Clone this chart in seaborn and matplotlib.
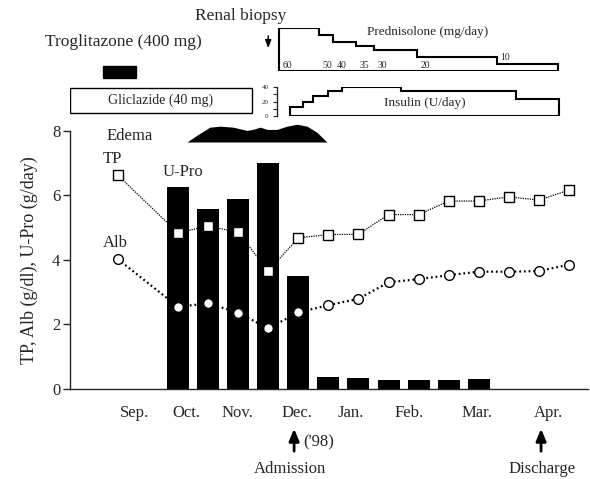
import matplotlib
import matplotlib.pyplot as plt
import pandas as pd
import seaborn as sns
from matplotlib.patches import Rectangle

matplotlib.use("Agg")

# visit index: 0 = Sep. ... 15 = Apr.
tp_x = [0, 2, 3, 4, 5, 6, 7, 8, 9, 10, 11, 12, 13, 14, 15]
tp = [6.62, 4.83, 5.05, 4.85, 3.65, 4.68, 4.78, 4.79, 5.40, 5.40, 5.82, 5.82, 5.95, 5.85, 6.16]
alb = [4.02, 2.54, 2.65, 2.36, 1.87, 2.37, 2.59, 2.79, 3.30, 3.40, 3.52, 3.63, 3.63, 3.65, 3.85]
upro_x = [2, 3, 4, 5, 6, 7, 8, 9, 10, 11, 12]
upro = [6.26, 5.56, 5.87, 7.0, 3.49, 0.38, 0.35, 0.28, 0.28, 0.28, 0.30]

months = ["Sep.", "Oct.", "Nov.", "Dec.", "Jan.", "Feb.", "Mar.", "Apr."]
month_pos = [0.57, 2.27, 3.99, 5.95, 7.75, 9.68, 11.94, 14.3]

# edema outline (top edge), base level
edema_x = [2.30, 2.63, 3.06, 3.40, 3.83, 4.29, 4.49, 4.73, 4.96, 5.29, 5.62, 5.96, 6.29, 6.62, 6.95]
edema_top = [7.65, 7.86, 8.11, 8.14, 8.11, 8.01, 8.04, 8.11, 8.04, 8.04, 8.14, 8.20, 8.14, 7.95, 7.65]
edema_base = 7.65

# prednisolone (mg/day) and insulin (U/day) steps
pred_edges = [5.36, 6.69, 7.15, 7.92, 8.52, 9.95, 12.6, 14.63]
pred_dose = [60, 50, 40, 35, 30, 20, 10]
ins_edges = [5.72, 6.17, 6.48, 7.0, 7.44, 9.43, 13.24, 14.67]
ins_dose = [12, 20, 28, 34, 40, 34, 24]

trog_period = (-0.49, 0.6)
glic_period = (-1.59, 4.46)
biopsy_x = 5.0
admission_x = 5.86
discharge_x = 14.07

xlim = (-1.59, 15.63)

sns.set_theme(style="ticks")
plt.rcParams["font.family"] = ["Liberation Serif", "DejaVu Serif"]
plt.rcParams["axes.linewidth"] = 1.0

W, H = 590, 479
fig = plt.figure(figsize=(5.9, 4.79), dpi=100)
left, width = 70 / W, 518 / W
ax = fig.add_axes([left, 1 - 388.8 / H, width, 258.1 / H])

sns.barplot(x=upro_x, y=upro, native_scale=True, width=0.73, color="black",
            saturation=1, errorbar=None, linewidth=0, ax=ax)

df = pd.DataFrame({"x": tp_x, "TP": tp, "Alb": alb})
sns.lineplot(data=df, x="x", y="TP", color="black", linewidth=0.9,
             linestyle=(0, (1, 0.9)), marker="s", markersize=7,
             markerfacecolor="white", markeredgecolor="black",
             markeredgewidth=1.0, ax=ax)
sns.lineplot(data=df, x="x", y="Alb", color="black", linewidth=1.6,
             linestyle=(0, (0.8, 1.3)), marker="o", markersize=7,
             markerfacecolor="white", markeredgecolor="black",
             markeredgewidth=1.0, ax=ax)

ax.fill_between(edema_x, edema_base, edema_top, color="black", lw=0, clip_on=False)

ax.set_xlim(*xlim)
ax.set_ylim(0, 8)
ax.set_yticks([0, 2, 4, 6, 8])
ax.set_xticks(month_pos)
ax.set_xticklabels(months)
ax.tick_params(axis="x", length=0, pad=12, labelsize=12)
ax.tick_params(axis="y", length=5, width=1, pad=2, labelsize=12)
ax.set_xlabel("")
ax.set_ylabel("TP, Alb (g/dl), U-Pro (g/day)", fontsize=13, labelpad=10)
sns.despine(ax=ax)

ax.text(0.4, 7.83, "Edema", ha="center", va="center", fontsize=12)
ax.text(-0.19, 7.11, "TP", ha="center", va="center", fontsize=12)
ax.text(2.17, 6.71, "U-Pro", ha="center", va="center", fontsize=12)
ax.text(-0.09, 4.51, "Alb", ha="center", va="center", fontsize=12)

# prednisolone panel
ax_p = fig.add_axes([left, 1 - 71 / H, width, 43 / H], facecolor="none")
ax_p.stairs(pred_dose, pred_edges, baseline=0, color="black", linewidth=1.5)
ax_p.hlines(0, pred_edges[0], pred_edges[-1], color="black", linewidth=1.5)
for x0, d in zip(pred_edges[:-1], pred_dose):
    ax_p.text(x0 + 0.12, 2 if d > 15 else d + 2, str(d), fontsize=7,
              ha="left", va="bottom")
ax_p.text(10.3, 54, "Prednisolone (mg/day)", ha="center", va="center", fontsize=9.5)
ax_p.set_xlim(*xlim)
ax_p.set_ylim(0, 60)
ax_p.axis("off")

# insulin panel
ax_i = fig.add_axes([left, 1 - 116 / H, width, 29 / H], facecolor="none")
ax_i.stairs(ins_dose, ins_edges, baseline=0, color="black", linewidth=1.5)
ax_i.hlines(0, ins_edges[0], ins_edges[-1], color="black", linewidth=1.5)
ax_i.text(10.2, 18, "Insulin (U/day)", ha="center", va="center", fontsize=9.5)
ax_i.set_xlim(*xlim)
ax_i.set_ylim(0, 40)
for s in ["top", "right", "bottom"]:
    ax_i.spines[s].set_visible(False)
ax_i.spines["left"].set_position(("data", 5.29))
ax_i.spines["left"].set_linewidth(1.0)
ax_i.set_xticks([])
ax_i.set_yticks([0, 20, 40])
ax_i.set_yticks([10, 30], minor=True)
ax_i.tick_params(axis="y", which="both", length=3, width=0.8, pad=3, labelsize=5)

# annotation layer in pixel y units
ax_t = fig.add_axes([left, 0, width, 1], facecolor="none")
ax_t.set_xlim(*xlim)
ax_t.set_ylim(H, 0)
ax_t.axis("off")

ax_t.text(0.2, 42, "Troglitazone (400 mg)", ha="center", va="center", fontsize=12.5)
ax_t.add_patch(Rectangle((trog_period[0], 66), trog_period[1] - trog_period[0], 12,
                         facecolor="black", edgecolor="black"))
ax_t.add_patch(Rectangle((glic_period[0], 88), glic_period[1] - glic_period[0], 25,
                         facecolor="white", edgecolor="black", linewidth=1.0))
ax_t.text(sum(glic_period) / 2, 100.5, "Gliclazide (40 mg)", ha="center",
          va="center", fontsize=10)

ax_t.text(biopsy_x - 0.93, 16, "Renal biopsy", ha="center", va="center", fontsize=12.5)
ax_t.annotate("", xy=(biopsy_x, 51), xytext=(biopsy_x, 33),
              arrowprops=dict(arrowstyle="-|>,head_width=0.15,head_length=0.4",
                              lw=1.0, color="black"))

for xv, label in [(admission_x, "Admission"), (discharge_x, "Discharge")]:
    ax_t.annotate("", xy=(xv, 426), xytext=(xv, 454),
                  arrowprops=dict(arrowstyle="-|>,head_width=0.25,head_length=0.6",
                                  lw=2.0, color="black"))
    ax_t.text(xv - (0.15 if label == "Admission" else -0.05), 469, label,
              ha="center", va="center", fontsize=12)
ax_t.text(admission_x + 0.83, 442, "('98)", ha="center", va="center", fontsize=12)

fig.savefig("out.png", dpi=100)
